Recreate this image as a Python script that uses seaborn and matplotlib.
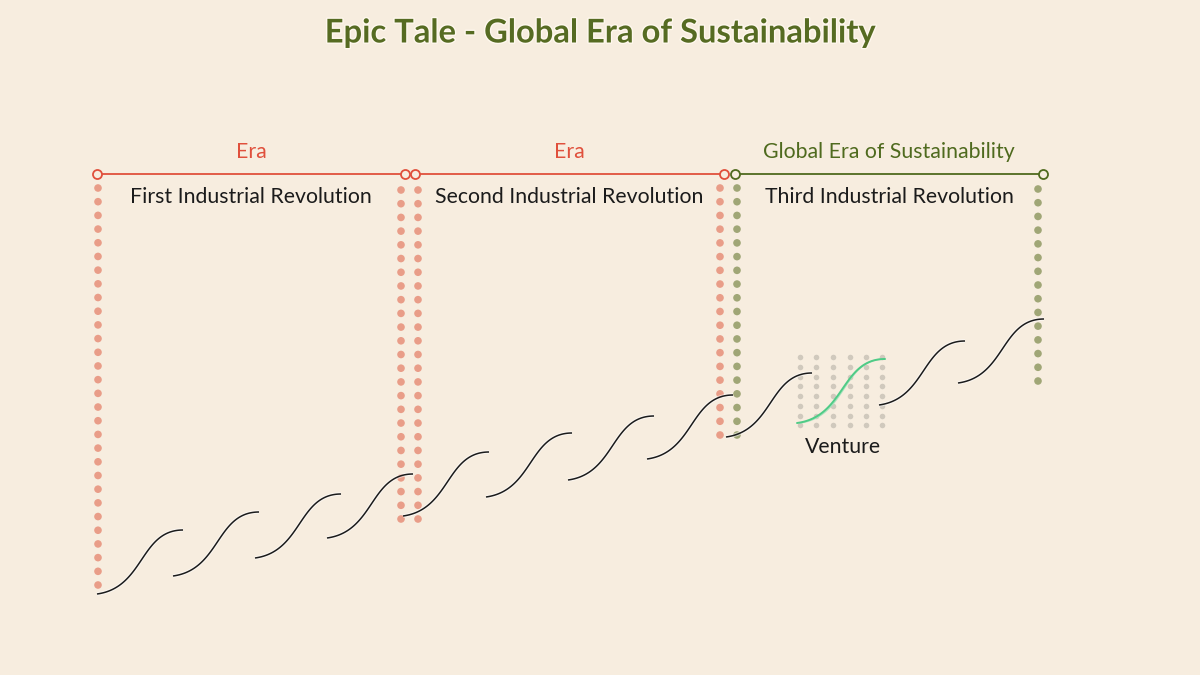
import numpy as np
import pandas as pd
import seaborn as sns
import matplotlib.pyplot as plt
from matplotlib import patheffects as pe

# ---------------- data ----------------
era_titles = ["Era", "Era", "Global Era of Sustainability"]
era_names = ["First Industrial Revolution", "Second Industrial Revolution",
             "Third Industrial Revolution"]
era_start = [97, 415, 735]
era_end = [405, 724, 1043]
era_kind = ["red", "red", "green"]

# dotted vertical boundaries
col_x = [98, 401, 418, 720, 737, 1038]
col_top = [188, 190, 190, 188, 188, 189]
col_bottom = [585, 519, 519, 435, 435, 381]
col_count = [30, 25, 25, 19, 19, 15]
col_kind = ["red", "red", "red", "red", "green", "green"]

# S-curves (start point of each venture curve)
curve_x0 = [97, 173, 255, 327, 403, 486, 568, 647, 726, 879, 958]
curve_y0 = [594, 576, 558, 538, 516, 497, 480, 459, 437, 405, 383]
curve_w = 86
curve_h = 64

# highlighted venture
venture_x0 = 797
venture_y0 = 423
venture_w = 88
venture_h = 64
venture_label = "Venture"

# grey grid behind the venture
grid_cols = [800, 816, 833, 850, 866, 882]
grid_rows = [357, 367, 377, 386, 396, 406, 416, 425]

title = "Epic Tale - Global Era of Sustainability"

# ---------------- style ----------------
BG = "#F7EDDF"
RED_LINE = "#E0503C"
RED_DOT = "#E99D88"
GREEN_LINE = "#4F6A1E"
GREEN_DOT = "#A0A676"
GREY_DOT = "#D0C9BD"
INK = "#1B1B1B"
TITLE_C = "#566B22"

sns.set_theme(style="white")
plt.rcParams['font.family'] = ['Lato', 'DejaVu Sans']

fig = plt.figure(figsize=(12, 6.75), dpi=100, facecolor=BG)
ax = fig.add_axes([0, 0, 1, 1])
ax.set_facecolor(BG)

# dotted columns
rows = []
for x, t, b, n, k in zip(col_x, col_top, col_bottom, col_count, col_kind):
    for y in np.linspace(t, b, n):
        rows.append({"x": x, "y": y, "kind": k})
dots = pd.DataFrame(rows)
sns.scatterplot(data=dots, x="x", y="y", hue="kind",
                palette={"red": RED_DOT, "green": GREEN_DOT},
                s=30, linewidth=0, alpha=1, legend=False, ax=ax, zorder=2)

# grey grid
gx, gy = np.meshgrid(grid_cols, grid_rows)
grid = pd.DataFrame({"x": gx.ravel(), "y": gy.ravel()})
sns.scatterplot(data=grid, x="x", y="y", color=GREY_DOT, s=16,
                linewidth=0, alpha=1, legend=False, ax=ax, zorder=2)

# S-curve shape (cubic Bezier)
tt = np.linspace(0, 1, 80)
P = np.array([[0, 0], [0.55, 0.10], [0.50, 1.0], [1, 1]])
B = (((1 - tt) ** 3)[:, None] * P[0] + (3 * (1 - tt) ** 2 * tt)[:, None] * P[1]
     + (3 * (1 - tt) * tt ** 2)[:, None] * P[2] + (tt ** 3)[:, None] * P[3])

halo = [pe.Stroke(linewidth=2.6, foreground="white", alpha=0.55), pe.Normal()]
for x0, y0 in zip(curve_x0, curve_y0):
    ax.plot(x0 + B[:, 0] * curve_w, y0 - B[:, 1] * curve_h,
            color=INK, lw=1.1, solid_capstyle="butt", zorder=4, path_effects=halo)

# venture curve (green, doubled)
ax.plot(venture_x0 + 3 + B[:, 0] * (venture_w - 3), venture_y0 - B[:, 1] * venture_h,
        color="#A9E3BE", lw=1.0, zorder=4)
ax.plot(venture_x0 + B[:, 0] * venture_w, venture_y0 - B[:, 1] * venture_h,
        color="#4FCB86", lw=1.4, zorder=5)

# era brackets
colmap = {"red": RED_LINE, "green": GREEN_LINE}
texts_regular = []
for s, e, k, et, en in zip(era_start, era_end, era_kind, era_titles, era_names):
    c = colmap[k]
    ax.plot([s, e], [174, 174], color=c, lw=1.3, zorder=3)
    ax.plot([s, e], [174, 174], "o", mfc=BG, mec=c, ms=6.5, mew=1.3, zorder=6)
    t1 = ax.text((s + e) / 2, 152, et, color=c, ha="center", va="center", fontsize=13)
    t2 = ax.text((s + e) / 2, 197, en, color=INK, ha="center", va="center", fontsize=13)
    texts_regular += [t1, t2]

tv = ax.text(venture_x0 + venture_w / 2 + 2, 447, venture_label, color=INK,
             ha="center", va="center", fontsize=13)
texts_regular.append(tv)

tt_ = ax.text(600, 33, title, color=TITLE_C, ha="center", va="center",
              fontsize=20, fontweight="bold",
              path_effects=[pe.Stroke(linewidth=2, foreground="#FFF8EE"), pe.Normal()])

ax.set_xlim(0, 1200)
ax.set_ylim(675, 0)
ax.axis("off")

# fit font sizes to measured widths in the reference
fig.canvas.draw()
r = fig.canvas.get_renderer()
ref = texts_regular[1]  # "First Industrial Revolution" -> 241 px
scale = 241 / ref.get_window_extent(r).width
for t in texts_regular:
    t.set_fontsize(13 * scale)
tt_.set_fontsize(20 * 551 / tt_.get_window_extent(r).width)

fig.savefig("out.png", dpi=100, facecolor=BG)
